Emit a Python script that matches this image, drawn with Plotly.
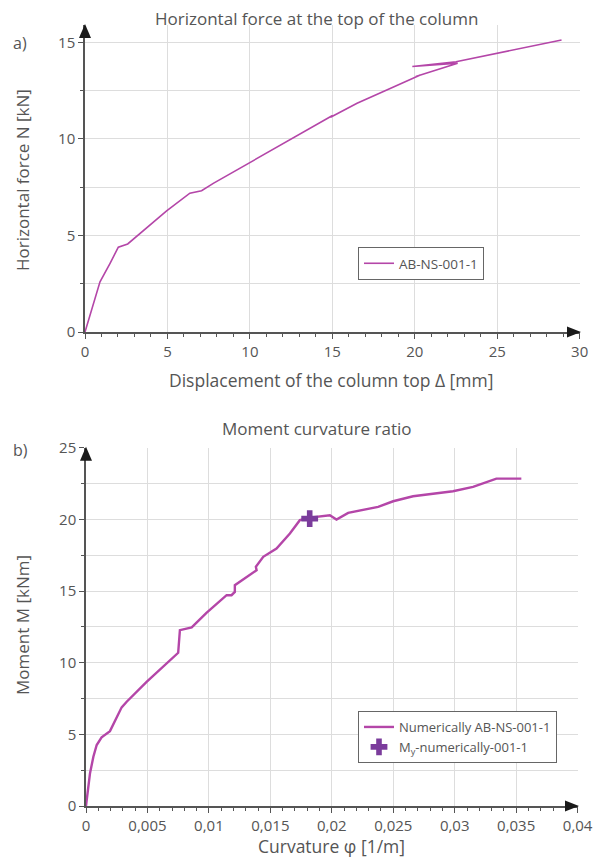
import plotly.graph_objects as go

W, H = 593, 859

# ---- Data: chart a ----
disp_mm = [0, 0.71, 0.91, 1.52, 2.02, 2.59, 3.33, 4.14, 4.95, 6.36, 7.07, 7.78, 9.19,
           11.0, 12.42, 13.6, 15.01, 14.89, 16.5, 18.2, 19.9, 20.3, 20.06, 22.6,
           19.85, 22.5, 25.55, 27.3, 28.9]
force_kn = [0, 2.0, 2.6, 3.56, 4.39, 4.56, 5.11, 5.66, 6.27, 7.19, 7.32, 7.70, 8.39,
            9.25, 9.95, 10.55, 11.21, 11.12, 11.85, 12.5, 13.14, 13.3, 13.23, 13.92,
            13.75, 14.0, 14.52, 14.85, 15.12]

# ---- Data: chart b ----
curv = [0, 0.000325, 0.0006, 0.00087, 0.00127, 0.00195, 0.0029, 0.00331, 0.00493,
        0.00656, 0.0075, 0.00764, 0.0086, 0.0098, 0.01144, 0.01184, 0.01211, 0.01211,
        0.01333, 0.01388, 0.01382, 0.01442, 0.0155, 0.01659, 0.0174, 0.01821, 0.01984,
        0.02038, 0.02133, 0.02377, 0.02499, 0.02661, 0.02986, 0.03149, 0.03339, 0.03542]
moment = [0, 2.28, 3.44, 4.26, 4.79, 5.23, 6.89, 7.28, 8.67, 9.96, 10.7, 12.28, 12.47,
          13.49, 14.72, 14.72, 14.95, 15.42, 16.12, 16.47, 16.7, 17.40, 17.98, 19.03,
          19.96, 20.14, 20.3, 20.0, 20.47, 20.89, 21.28, 21.63, 21.98, 22.28, 22.86, 22.86]
my_curv = [0.0182]
my_moment = [20.07]

xa_ticks = [0, 5, 10, 15, 20, 25, 30]
ya_ticks = [0, 5, 10, 15]
xb_ticks = [0, 0.005, 0.01, 0.015, 0.02, 0.025, 0.03, 0.035, 0.04]
xb_labels = ["0", "0,005", "0,01", "0,015", "0,02", "0,025", "0,03", "0,035", "0,04"]
yb_ticks = [0, 5, 10, 15, 20, 25]

LINE = "#b446a8"
MARK = "#7b3c9c"
TXT = "#555555"
GRID = "#dddddd"
AX = "#555555"
FONT = "Open Sans"

XA_MAX, YA_MAX = 30.02, 15.9
XB_MAX, YB_MAX = 0.04003, 25.02

# plot-area pixel boxes (left, right, top, bottom)
A_BOX = (85, 580, 25, 332)
B_BOX = (86, 578, 447.7, 806)


def px_x(p):
    return p / W


def px_y(p):
    return 1 - p / H


fig = go.Figure()
fig.add_trace(go.Scatter(x=disp_mm, y=force_kn, mode="lines", name="AB-NS-001-1",
                         line=dict(color=LINE, width=1.6), xaxis="x", yaxis="y",
                         legend="legend"))
fig.add_trace(go.Scatter(x=curv, y=moment, mode="lines", name="Numerically AB-NS-001-1",
                         line=dict(color=LINE, width=2.4), xaxis="x2", yaxis="y2",
                         legend="legend2"))
fig.add_trace(go.Scatter(x=my_curv, y=my_moment, mode="markers",
                         name="M<sub>y</sub>-numerically-001-1",
                         marker=dict(symbol="cross", size=14, color=MARK),
                         xaxis="x2", yaxis="y2", legend="legend2"))

axis_common = dict(showline=True, linecolor=AX, linewidth=1.5, gridcolor=GRID, gridwidth=1,
                   zeroline=False, ticks="outside", tickcolor=AX, ticklen=5, automargin=False,
                   tickfont=dict(family=FONT, size=15, color=TXT))

fig.update_layout(
    width=W, height=H, margin=dict(l=0, r=0, t=0, b=0, autoexpand=False),
    paper_bgcolor="white", plot_bgcolor="white", font=dict(family=FONT, color=TXT),
    xaxis=dict(domain=[px_x(A_BOX[0]), px_x(A_BOX[1])], anchor="y", range=[0, XA_MAX],
               tickvals=xa_ticks, minor=dict(dtick=1, ticklen=3, tickcolor=AX, showgrid=False),
               **axis_common),
    yaxis=dict(domain=[px_y(A_BOX[3]), px_y(A_BOX[2])], anchor="x", range=[0, YA_MAX],
               tickvals=ya_ticks, minor=dict(dtick=2.5, ticklen=3, tickcolor=AX, showgrid=True,
                                             gridcolor=GRID),
               **axis_common),
    xaxis2=dict(domain=[px_x(B_BOX[0]), px_x(B_BOX[1])], anchor="y2", range=[0, XB_MAX],
                tickvals=xb_ticks, ticktext=xb_labels,
                minor=dict(dtick=0.001, ticklen=3, tickcolor=AX, showgrid=False),
                **axis_common),
    yaxis2=dict(domain=[px_y(B_BOX[3]), px_y(B_BOX[2])], anchor="x2", range=[0, YB_MAX],
                tickvals=yb_ticks, minor=dict(dtick=2.5, ticklen=3, tickcolor=AX, showgrid=True,
                                              gridcolor=GRID),
                **axis_common),
    legend=dict(x=px_x(358), y=px_y(247), xanchor="left", yanchor="top",
                bordercolor="#666666", borderwidth=1, bgcolor="white",
                font=dict(family=FONT, size=13.5, color=TXT), itemwidth=30,
                tracegroupgap=0),
    legend2=dict(x=px_x(358), y=px_y(711), xanchor="left", yanchor="top",
                 bordercolor="#666666", borderwidth=1, bgcolor="white",
                 font=dict(family=FONT, size=13, color=TXT), itemwidth=30,
                 tracegroupgap=0),
    showlegend=True,
)


# arrowheads at the axis ends, drawn as filled triangles in paper space
def tri(points):
    path = "M " + " L ".join(f"{px_x(x):.5f},{px_y(y):.5f}" for x, y in points) + " Z"
    fig.add_shape(type="path", xref="paper", yref="paper", path=path,
                  fillcolor="#1a1a1a", line=dict(width=0), layer="above")


for (l, r, t, b) in (A_BOX, B_BOX):
    tri([(r - 13, b - 5.5), (r + 1, b), (r - 13, b + 5.5)])     # x-axis arrow
    tri([(l - 6, t + 13), (l, t - 1), (l + 6, t + 13)])         # y-axis arrow


def ann(text, x, y, size, angle=0):
    fig.add_annotation(text=text, x=px_x(x), y=px_y(y), xref="paper", yref="paper",
                       showarrow=False, textangle=angle, xanchor="center", yanchor="middle",
                       font=dict(family=FONT, size=size, color=TXT))


ann("Horizontal force at the top of the column", 317, 19, 17)
ann("Displacement of the column top Δ [mm]", 331, 380, 17.5)
ann("Horizontal force N [kN]", 22, 180, 17, -90)
ann("a)", 20, 43, 16)
ann("Moment curvature ratio", 317, 428, 17)
ann("Curvature φ [1/m]", 331, 846, 17.5)
ann("Moment M [kNm]", 22, 625, 17, -90)
ann("b)", 20, 450, 16)

fig.write_html("out.html")
